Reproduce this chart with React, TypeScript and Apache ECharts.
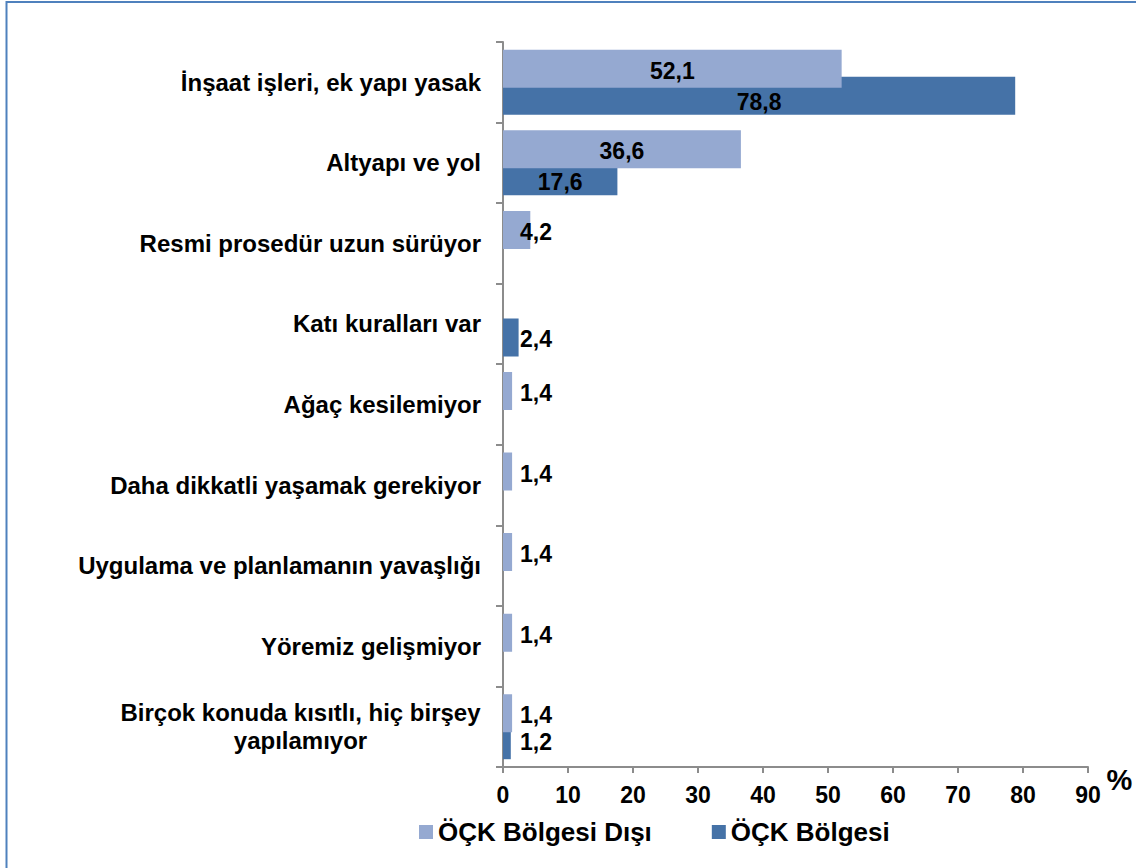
import React, { useEffect, useRef } from "react";
import * as echarts from "echarts";

const categories: string[] = [
  "İnşaat işleri, ek yapı yasak",
  "Altyapı ve yol",
  "Resmi prosedür uzun sürüyor",
  "Katı kuralları var",
  "Ağaç kesilemiyor",
  "Daha dikkatli yaşamak gerekiyor",
  "Uygulama ve planlamanın yavaşlığı",
  "Yöremiz gelişmiyor",
  "Birçok konuda kısıtlı, hiç birşey\nyapılamıyor",
];
const seriesNames: string[] = ["ÖÇK Bölgesi Dışı", "ÖÇK Bölgesi"];
const outsideZone: (number | null)[] = [52.1, 36.6, 4.2, null, 1.4, 1.4, 1.4, 1.4, 1.4];
const insideZone: (number | null)[] = [78.8, 17.6, null, 2.4, null, null, null, null, 1.2];
const xMin = 0;
const xMax = 90;
const xInterval = 10;
const unitLabel = "%";

const FONT = '"Liberation Sans", Arial, Helvetica, sans-serif';
const LIGHT = "#95A9D1";
const DARK = "#4572A7";
const AXIS = "#8C8C8C";

function measure(text: string, size: number): number {
  const c = document.createElement("canvas").getContext("2d");
  if (!c) return text.length * size * 0.55;
  c.font = `bold ${size}px ${FONT}`;
  return c.measureText(text).width;
}

function makeData(values: (number | null)[], bigDy: number) {
  return values.map((v) => {
    if (v == null) return null;
    if (v >= 10) {
      return { value: v, label: { position: "inside", offset: [0, bigDy] } };
    }
    return { value: v, label: { position: "insideLeft", offset: [12, 2] } };
  });
}

export default function App() {
  const ref = useRef<HTMLDivElement>(null);
  useEffect(() => {
    if (!ref.current) return;
    const chart = echarts.init(ref.current, undefined, { renderer: "svg" });
    const catSize = 24;
    const multiLines = categories
      .filter((c) => c.includes("\n"))
      .flatMap((c) => c.split("\n"));
    const richWidth = Math.ceil(
      Math.max(...multiLines.map((l) => measure(l, catSize)), 10)
    );
    const labelStyle = {
      show: true,
      color: "#000",
      fontSize: 23,
      fontWeight: "bold",
      fontFamily: FONT,
      formatter: (p: any) =>
        p.value == null ? "" : Number(p.value).toFixed(1).replace(".", ","),
    };
    chart.setOption({
      animation: false,
      backgroundColor: "#fff",
      grid: { left: 503, right: 48, top: 42, bottom: 101, containLabel: false },
      legend: {
        data: seriesNames,
        left: 419,
        top: 818,
        padding: 0,
        icon: "rect",
        itemWidth: 14,
        itemHeight: 14,
        itemGap: 60,
        textStyle: {
          color: "#000",
          fontSize: 26,
          fontWeight: "bold",
          fontFamily: FONT,
          lineHeight: 28,
        },
      },
      xAxis: {
        type: "value",
        min: xMin,
        max: xMax,
        interval: xInterval,
        axisLine: { show: true, lineStyle: { color: AXIS, width: 2 } },
        axisTick: { show: true, length: 6, lineStyle: { color: AXIS, width: 2 } },
        splitLine: { show: false },
        axisLabel: {
          color: "#000",
          fontSize: 23,
          fontWeight: "bold",
          fontFamily: FONT,
          margin: 16,
        },
      },
      yAxis: {
        type: "category",
        inverse: true,
        data: categories,
        axisLine: { show: true, lineStyle: { color: AXIS, width: 2 } },
        axisTick: { show: true, length: 7, lineStyle: { color: AXIS, width: 2 } },
        axisLabel: {
          color: "#000",
          fontSize: catSize,
          fontWeight: "bold",
          fontFamily: FONT,
          margin: 22,
          lineHeight: 28,
          formatter: (v: string) =>
            v.includes("\n")
              ? v
                  .split("\n")
                  .map((l) => `{c|${l}}`)
                  .join("\n")
              : v,
          rich: {
            c: {
              width: richWidth,
              align: "center",
              color: "#000",
              fontSize: catSize,
              fontWeight: "bold",
              fontFamily: FONT,
              lineHeight: 28,
            },
          },
        },
      },
      series: [
        {
          name: seriesNames[0],
          type: "bar",
          z: 3,
          barWidth: 38,
          barGap: "-29%",
          itemStyle: { color: LIGHT },
          label: labelStyle,
          data: makeData(outsideZone, 2),
        },
        {
          name: seriesNames[1],
          type: "bar",
          z: 2,
          barWidth: 38,
          barGap: "-29%",
          itemStyle: { color: DARK },
          label: labelStyle,
          data: makeData(insideZone, 6),
        },
      ],
      graphic: [
        {
          type: "rect",
          silent: true,
          z: 100,
          shape: { x: 6.5, y: 2, width: 1300, height: 1000 },
          style: { fill: "none", stroke: "#4F81BD", lineWidth: 2 },
        },
        {
          type: "text",
          silent: true,
          x: 1119.5,
          y: 779.5,
          style: {
            text: unitLabel,
            fill: "#000",
            fontSize: 29,
            fontWeight: "bold",
            fontFamily: FONT,
            align: "center",
            verticalAlign: "middle",
          },
        },
      ],
    });
    return () => chart.dispose();
  }, []);
  return (
    <div
      ref={ref}
      style={{ position: "absolute", left: 0, top: 0, width: 1136, height: 868 }}
    />
  );
}
